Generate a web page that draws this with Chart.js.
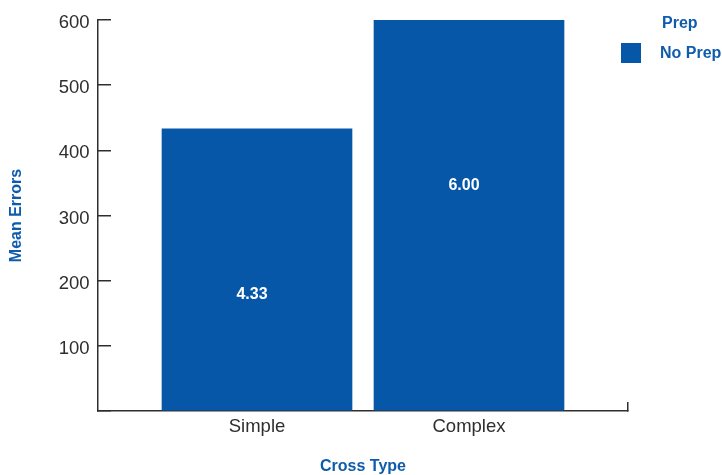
<!DOCTYPE html>
<html>
<head>
<meta charset="utf-8">
<script src="https://cdn.jsdelivr.net/npm/chart.js@4/dist/chart.umd.min.js"></script>
<style>
  html, body { margin: 0; padding: 0; background: #ffffff; }
  #wrap { width: 722px; height: 475px; }
</style>
</head>
<body>
<div id="wrap"><canvas id="chart" width="722" height="475"></canvas></div>
<script>
// Mean errors by cross type
const categories = ['Simple', 'Complex'];
const meanErrors = [4.33, 6.00];
const seriesName = 'No Prep';
const legendTitle = 'Prep';
const xAxisTitle = 'Cross Type';
const yAxisTitle = 'Mean Errors';
// y tick labels, indexed by scale value
const yTickLabels = ['', '100', '200', '300', '400', '500', '600'];

const BLUE = '#0657a8';
const TITLE_BLUE = '#0f5cad';
const AXIS = '#2e2e2e';
const FONT = '"Liberation Sans", Arial, Helvetica, sans-serif';

// category axis runs a quarter step past the outer bars on each side
const X_MIN = 0.25;
const X_MAX = categories.length + 0.75;

// value labels written inside each bar
const barValueLabels = {
  id: 'barValueLabels',
  afterDatasetsDraw(chart) {
    const ctx = chart.ctx;
    const meta = chart.getDatasetMeta(0);
    ctx.save();
    ctx.fillStyle = '#ffffff';
    ctx.font = 'bold 16px ' + FONT;
    ctx.textAlign = 'center';
    ctx.textBaseline = 'middle';
    meta.data.forEach((bar, i) => {
      const v = chart.data.datasets[0].data[i].y;
      ctx.fillText(v.toFixed(2), bar.x - 5, bar.y + 166);
    });
    ctx.restore();
  }
};

// legend with a title, placed in the top-right corner
const titledLegend = {
  id: 'titledLegend',
  afterDraw(chart) {
    const ctx = chart.ctx;
    ctx.save();
    ctx.font = 'bold 16px ' + FONT;
    ctx.textBaseline = 'middle';
    ctx.textAlign = 'left';
    ctx.fillStyle = TITLE_BLUE;
    ctx.fillText(legendTitle, 662, 24);
    chart.data.datasets.forEach((ds, i) => {
      const y = 53 + i * 28;
      ctx.fillStyle = ds.backgroundColor;
      ctx.fillRect(621, y - 10, 20, 20);
      ctx.fillStyle = TITLE_BLUE;
      ctx.fillText(ds.label, 660, y + 1);
    });
    ctx.restore();
  }
};

new Chart(document.getElementById('chart'), {
  type: 'bar',
  data: {
    datasets: [{
      label: seriesName,
      data: meanErrors.map((v, i) => ({ x: i + 1, y: v })),
      backgroundColor: BLUE,
      borderWidth: 0,
      barThickness: 190
    }]
  },
  options: {
    responsive: false,
    devicePixelRatio: 1,
    animation: false,
    layout: { padding: { top: 20, right: 94, left: 0, bottom: 0 } },
    plugins: {
      legend: { display: false },
      tooltip: { enabled: false }
    },
    scales: {
      x: {
        type: 'linear',
        offset: false,
        min: X_MIN,
        max: X_MAX,
        afterBuildTicks(scale) {
          scale.ticks = categories.map((c, i) => ({ value: i + 1 })).concat([{ value: X_MAX }]);
        },
        afterFit(scale) {
          scale.height = 64;
          scale.paddingLeft = 0;
          scale.paddingRight = 0;
        },
        ticks: {
          autoSkip: false,
          maxRotation: 0,
          padding: 14,
          color: AXIS,
          font: { family: FONT, size: 18.5 },
          callback: (v) => categories[v - 1] || ''
        },
        grid: {
          offset: false,
          drawOnChartArea: false,
          drawTicks: true,
          tickLength: -9,
          lineWidth: 1.5,
          color: (c) => (c.tick && c.tick.value === X_MAX) ? AXIS : 'rgba(0,0,0,0)'
        },
        border: { display: true, color: AXIS, width: 1.5 },
        title: {
          display: true,
          text: xAxisTitle,
          color: TITLE_BLUE,
          font: { family: FONT, size: 16, weight: 'bold', lineHeight: 1 },
          padding: { top: 0, bottom: 0 }
        }
      },
      y: {
        type: 'linear',
        min: 0,
        max: yTickLabels.length - 1,
        afterBuildTicks(scale) {
          scale.ticks = yTickLabels.map((t, i) => ({ value: i }));
        },
        afterFit(scale) {
          scale.width = 98;
          scale.paddingTop = 0;
          scale.paddingBottom = 0;
        },
        ticks: {
          padding: 21.5,
          labelOffset: 3,
          color: AXIS,
          font: { family: FONT, size: 18.5 },
          callback: (v) => yTickLabels[v]
        },
        grid: {
          drawOnChartArea: false,
          drawTicks: true,
          tickLength: -13,
          lineWidth: 1.5,
          color: AXIS
        },
        border: { display: true, color: AXIS, width: 1.5 },
        title: {
          display: true,
          text: yAxisTitle,
          color: TITLE_BLUE,
          font: { family: FONT, size: 16, weight: 'bold', lineHeight: 1 },
          padding: { top: 9, bottom: 0 }
        }
      }
    }
  },
  plugins: [barValueLabels, titledLegend]
});
</script>
</body>
</html>
